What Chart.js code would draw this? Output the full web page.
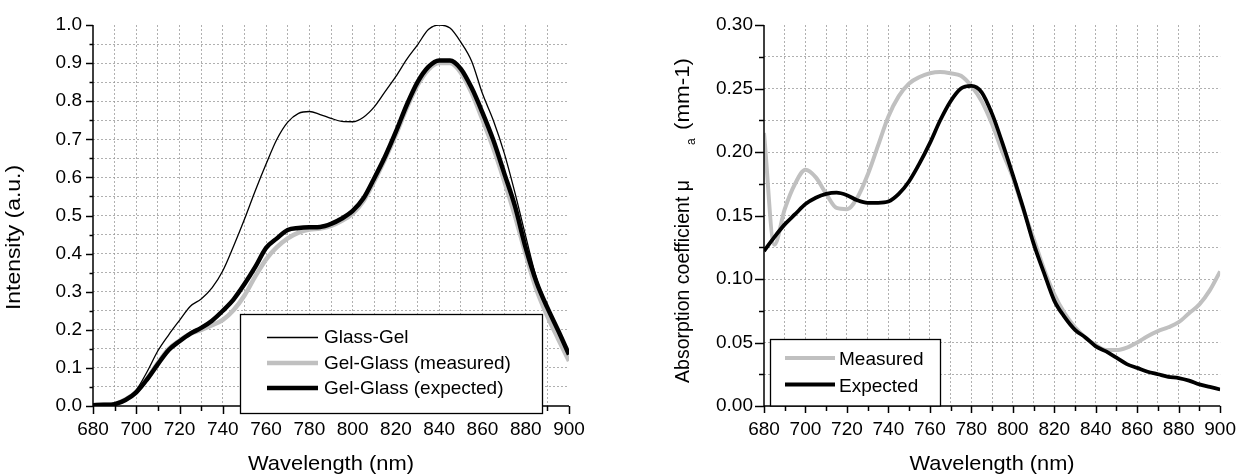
<!DOCTYPE html>
<html><head><meta charset="utf-8">
<script src="https://cdn.jsdelivr.net/npm/chart.js@4/dist/chart.umd.min.js"></script>
<style>
html,body{margin:0;padding:0;background:#fff;}
#wrap{position:relative;width:1248px;height:475px;overflow:hidden;}
canvas{position:absolute;top:0;}
</style></head><body>
<div id="wrap">
<canvas id="c1" width="624" height="475" style="left:0px"></canvas>
<canvas id="c2" width="624" height="475" style="left:624px"></canvas>
</div>
<script>
// ---------- DATA ----------
const wavelengths = [680,685,690,695,700,705,710,715,720,725,730,735,740,745,750,755,760,765,770,775,780,785,790,795,800,805,810,815,820,825,830,835,840,845,850,855,860,865,870,875,880,885,890,895,900];

// Left chart: Intensity (a.u.)
const glassGel = [0.000,0.003,0.005,0.016,0.042,0.090,0.145,0.187,0.225,0.262,0.281,0.310,0.355,0.420,0.490,0.565,0.635,0.700,0.745,0.768,0.773,0.765,0.755,0.747,0.746,0.758,0.785,0.825,0.865,0.910,0.948,0.988,1.000,0.992,0.955,0.905,0.820,0.750,0.665,0.560,0.445,0.335,0.260,0.198,0.140];
const gelGlassMeasured = [0.002,0.003,0.005,0.017,0.037,0.072,0.113,0.150,0.172,0.190,0.200,0.212,0.226,0.252,0.290,0.340,0.385,0.417,0.440,0.455,0.463,0.466,0.473,0.486,0.505,0.538,0.590,0.648,0.712,0.782,0.842,0.883,0.900,0.900,0.875,0.822,0.752,0.677,0.592,0.500,0.398,0.305,0.236,0.176,0.118];
const gelGlassExpected = [0.002,0.003,0.005,0.016,0.036,0.070,0.110,0.147,0.170,0.190,0.205,0.224,0.250,0.280,0.320,0.365,0.415,0.440,0.462,0.467,0.469,0.470,0.478,0.492,0.512,0.545,0.598,0.655,0.720,0.790,0.850,0.890,0.907,0.907,0.885,0.835,0.770,0.698,0.612,0.525,0.415,0.325,0.258,0.198,0.135];

// Right chart: Absorption coefficient (mm-1)
const muMeasured = [0.215,0.127,0.155,0.175,0.186,0.180,0.167,0.156,0.155,0.164,0.182,0.205,0.228,0.244,0.254,0.259,0.262,0.263,0.262,0.260,0.252,0.240,0.222,0.200,0.180,0.155,0.132,0.108,0.088,0.073,0.062,0.054,0.048,0.044,0.044,0.046,0.050,0.055,0.059,0.062,0.066,0.073,0.080,0.091,0.106];
const muExpected = [0.122,0.133,0.143,0.151,0.159,0.164,0.167,0.168,0.166,0.162,0.160,0.160,0.161,0.167,0.177,0.191,0.207,0.225,0.240,0.250,0.252,0.247,0.230,0.207,0.182,0.156,0.128,0.105,0.083,0.070,0.060,0.054,0.047,0.043,0.038,0.033,0.030,0.027,0.025,0.023,0.022,0.020,0.017,0.015,0.013];

const xTickStep = 10, xLabelStep = 20;
const leftYStep = 0.05, leftYLabelStep = 0.1;
const rightYStep = 0.025, rightYLabelStep = 0.05;

// ---------- STYLE ----------
const FONT = '"Liberation Sans", Arial, Helvetica, sans-serif';
const GRID = 'rgba(150,150,150,0.75)';
const GRAY = '#c0c0c0';

function pts(ys){ return wavelengths.map((x,i)=>({x:x,y:ys[i]})); }
function isMult(v, step){ const r=v/step; return Math.abs(r-Math.round(r))<1e-6; }

function fitText(ctx, str, x, y, target, rotate){
  ctx.save();
  ctx.translate(x,y);
  if(rotate) ctx.rotate(-Math.PI/2);
  const w = ctx.measureText(str).width;
  if(target) ctx.scale(target/w,1);
  ctx.fillText(str,0,0);
  ctx.restore();
}

function decor(cfg){
  return {id:'decor', afterDraw(chart){
    const ctx=chart.ctx, a=chart.chartArea, xs=chart.scales.x, ys=chart.scales.y;
    ctx.save();
    ctx.setLineDash([]);
    ctx.strokeStyle='#000'; ctx.lineWidth=1.5; ctx.lineCap='butt';
    // ticks
    xs.ticks.forEach(t=>{
      const px=Math.round(xs.getPixelForValue(t.value))+0.5;
      const L=isMult(t.value,xLabelStep)?cfg.xMajor:cfg.xMinor;
      ctx.beginPath(); ctx.moveTo(px,a.bottom); ctx.lineTo(px,a.bottom+L); ctx.stroke();
    });
    ys.ticks.forEach(t=>{
      const py=Math.round(ys.getPixelForValue(t.value))+0.5;
      const L=isMult(t.value,cfg.yLabelStep)?cfg.yMajor:cfg.yMinor;
      ctx.beginPath(); ctx.moveTo(a.left,py); ctx.lineTo(a.left-L,py); ctx.stroke();
    });
    // axes
    ctx.beginPath(); ctx.moveTo(a.left,a.top); ctx.lineTo(a.left,a.bottom); ctx.lineTo(a.right,a.bottom); ctx.stroke();
    // legend
    const lg=cfg.legend;
    ctx.fillStyle='#fff';
    ctx.fillRect(lg.x0,lg.y0,lg.x1-lg.x0,lg.y1-lg.y0);
    ctx.strokeStyle='#000'; ctx.lineWidth=1.3;
    ctx.strokeRect(lg.x0,lg.y0,lg.x1-lg.x0,lg.y1-lg.y0);
    ctx.font='19px '+FONT; ctx.textAlign='left'; ctx.textBaseline='alphabetic'; ctx.fillStyle='#000';
    chart.data.datasets.forEach((ds,i)=>{
      const yl=lg.lineY[i], yb=lg.baseY[i];
      ctx.strokeStyle=ds.borderColor; ctx.lineWidth=ds.borderWidth; ctx.lineCap='butt';
      ctx.beginPath(); ctx.moveTo(lg.lx0,yl); ctx.lineTo(lg.lx1,yl); ctx.stroke();
      ctx.fillText(ds.label, lg.tx, yb);
    });
    // titles
    ctx.fillStyle='#000'; ctx.textBaseline='alphabetic'; ctx.textAlign='left';
    ctx.font='21px '+FONT;
    const cx=(a.left+a.right)/2;
    const xt='Wavelength (nm)';
    ctx.save();
    const w=ctx.measureText(xt).width;
    ctx.translate(cx-cfg.xTitleLen/2, 470); ctx.scale(cfg.xTitleLen/w,1); ctx.fillText(xt,0,0);
    ctx.restore();
    cfg.yTitle(ctx);
    ctx.restore();
  }};
}

function makeChart(id, datasets, yMax, yStep, yLabelStep, yDecimals, yWidth, padRight, cfg){
  return new Chart(document.getElementById(id), {
    type:'line',
    data:{datasets:datasets},
    options:{
      responsive:false, animation:false, devicePixelRatio:1,
      layout:{padding:{top:25,right:padRight,left:0,bottom:0}},
      plugins:{legend:{display:false}, tooltip:{enabled:false}},
      elements:{point:{radius:0,hoverRadius:0}, line:{borderJoinStyle:'round',borderCapStyle:'butt',cubicInterpolationMode:'monotone'}},
      scales:{
        x:{type:'linear', min:680, max:900,
          afterFit(s){ s.height=69; },
          ticks:{stepSize:xTickStep, autoSkip:false, maxRotation:0, minRotation:0, padding:12, color:'#000',
            font:{family:FONT,size:19},
            callback:(v)=> isMult(v,xLabelStep)? String(Math.round(v)) : ''},
          grid:{drawTicks:false, lineWidth:1,
            color:(c)=>{ const v=c.tick?c.tick.value:null; return (v===null||Math.abs(v-680)<1e-6||Math.abs(v-900)<1e-6)?'rgba(0,0,0,0)':GRID; }},
          border:{display:false, dash:[2,2]}
        },
        y:{type:'linear', min:0, max:yMax,
          afterFit(s){ s.width=yWidth; },
          ticks:{stepSize:yStep, autoSkip:false, padding:11, color:'#000', font:{family:FONT,size:19},
            callback:(v)=> isMult(v,yLabelStep)? v.toFixed(yDecimals) : ''},
          grid:{drawTicks:false, lineWidth:1,
            color:(c)=>{ const v=c.tick?c.tick.value:null; return (v===null||Math.abs(v)<1e-9||Math.abs(v-yMax)<1e-9)?'rgba(0,0,0,0)':GRID; }},
          border:{display:false, dash:[2,2]}
        }
      }
    },
    plugins:[decor(cfg)]
  });
}

// Left chart
makeChart('c1', [
  {label:'Glass-Gel', data:pts(glassGel), borderColor:'#000', borderWidth:1.3, order:0, fill:false},
  {label:'Gel-Glass (measured)', data:pts(gelGlassMeasured), borderColor:GRAY, borderWidth:4.5, order:2, fill:false},
  {label:'Gel-Glass (expected)', data:pts(gelGlassExpected), borderColor:'#000', borderWidth:4.5, order:1, fill:false}
], 1.0, leftYStep, leftYLabelStep, 1, 93, 55, {
  xMajor:8, xMinor:5, yMajor:7, yMinor:3.5, yLabelStep:leftYLabelStep, xTitleLen:166,
  legend:{x0:240.5,y0:314.5,x1:542.5,y1:413.5, lx0:267, lx1:318, tx:324, lineY:[337.5,363,388], baseY:[343,369,394]},
  yTitle:(ctx)=>{ ctx.font='21px '+FONT; fitText(ctx,'Intensity (a.u.)',20,310,145,true); }
});

// Right chart
makeChart('c2', [
  {label:'Measured', data:pts(muMeasured), borderColor:GRAY, borderWidth:4, order:1, fill:false},
  {label:'Expected', data:pts(muExpected), borderColor:'#000', borderWidth:3.8, order:0, fill:false}
], 0.30, rightYStep, rightYLabelStep, 2, 140, 18, {
  xMajor:7, xMinor:5, yMajor:9, yMinor:5, yLabelStep:rightYLabelStep, xTitleLen:165,
  legend:{x0:146.5,y0:339.5,x1:316.5,y1:406, lx0:161, lx1:211, tx:215, lineY:[358,384.5], baseY:[365,392]},
  yTitle:(ctx)=>{
    ctx.font='19.5px '+FONT;
    fitText(ctx,'Absorption coefficient \u03bc',65,383,203,true);
    ctx.font='12px '+FONT;
    fitText(ctx,'a',71,145,null,true);
    ctx.font='19.5px '+FONT;
    fitText(ctx,'(mm-1)',65,130,72,true);
  }
});
</script>
</body></html>
